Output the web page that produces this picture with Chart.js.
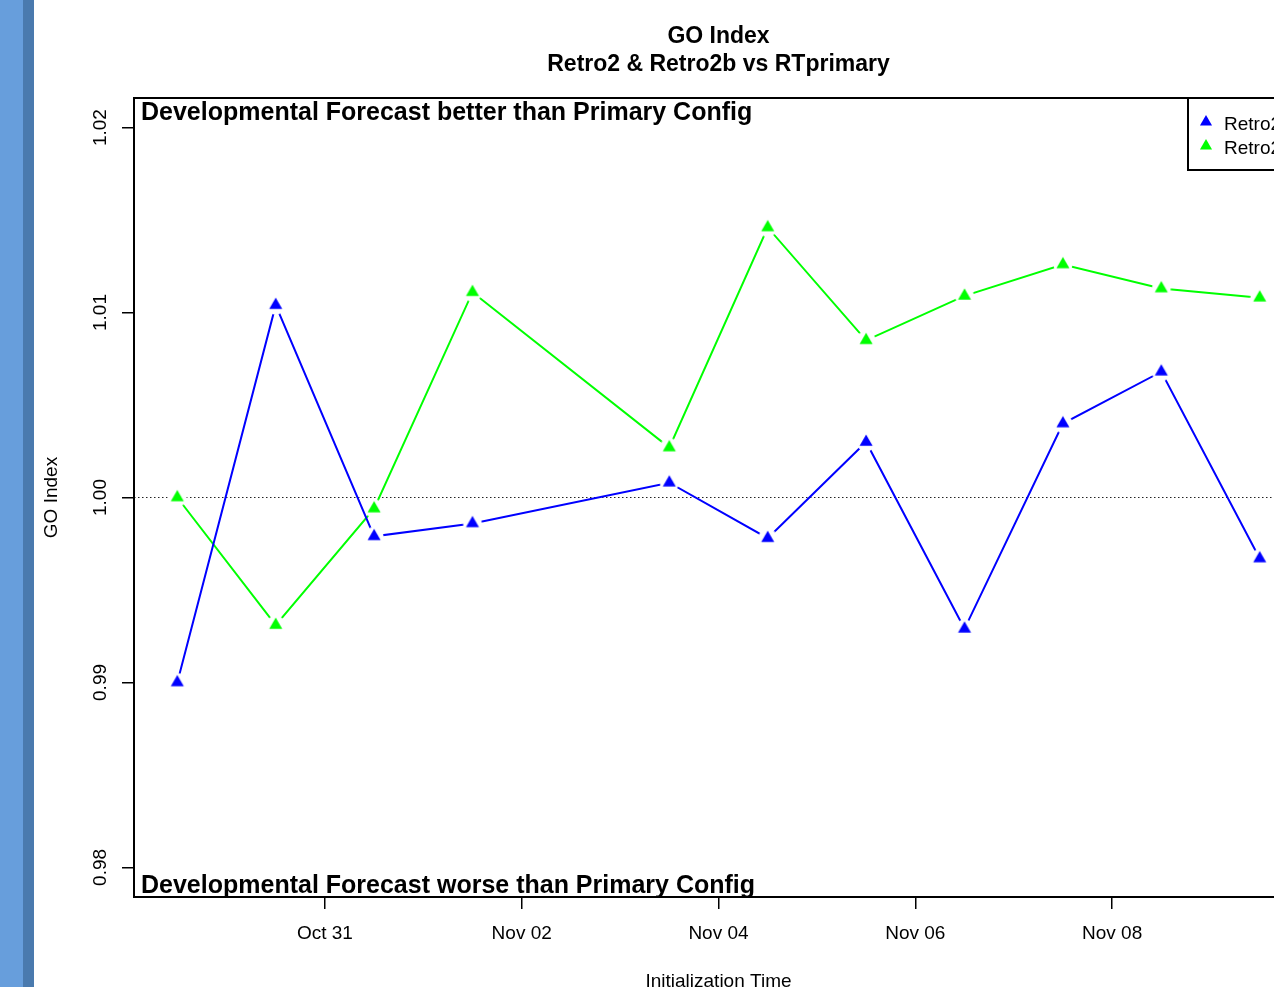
<!DOCTYPE html>
<html>
<head>
<meta charset="utf-8">
<title>GO Index</title>
<script src="https://cdn.jsdelivr.net/npm/chart.js@4/dist/chart.umd.min.js"></script>
<style>
  html, body { margin: 0; padding: 0; background: #fff; overflow: hidden; }
  #wrap { position: relative; width: 1274px; height: 987px; overflow: hidden; }
  #sideBar {
    position: absolute; left: 0; top: 0; width: 34px; height: 100%; z-index: 2;
    background: linear-gradient(to right, #679edc 0, #679edc 23px, #4a7aae 23px, #4a7aae 34px);
  }
  #goChart { position: absolute; left: 0; top: 0; }
</style>
</head>
<body>
<div id="wrap">
  <div id="sideBar"></div>
  <canvas id="goChart" width="1400" height="1000" style="width:1400px;height:1000px"></canvas>
</div>
<script>
// init times (12Z runs), Nov 02 missing
const initTimes = ['Oct 29 12Z', 'Oct 30 12Z', 'Oct 31 12Z', 'Nov 01 12Z', 'Nov 03 12Z', 'Nov 04 12Z',
  'Nov 05 12Z', 'Nov 06 12Z', 'Nov 07 12Z', 'Nov 08 12Z', 'Nov 09 12Z'];
const retro2 = [0.9900, 1.0104, 0.9979, 0.9986, 1.0008, 0.9978, 1.0030, 0.9929, 1.0040, 1.0068, 0.9967];
const retro2b = [1.0000, 0.9931, 0.9994, 1.0111, 1.0027, 1.0146, 1.0085, 1.0109, 1.0126, 1.0113, 1.0108];

const xTickLabels = ['Oct 31', 'Nov 02', 'Nov 04', 'Nov 06', 'Nov 08'];
const yTicks = [0.98, 0.99, 1.00, 1.01, 1.02];

const titleLines = ['GO Index', 'Retro2 & Retro2b vs RTprimary'];
const betterText = 'Developmental Forecast better than Primary Config';
const worseText = 'Developmental Forecast worse than Primary Config';

const FONT = '"Liberation Sans", Arial, Helvetica, sans-serif';

// day number counted from Oct 00 (Nov 01 -> 32)
function dayOf(s) {
  const parts = s.split(' ');
  const base = parts[0] === 'Nov' ? 31 : 0;
  const hour = parts[2] ? parseInt(parts[2], 10) : 0;
  return base + Number(parts[1]) + hour / 24;
}

const xs = initTimes.map(dayOf);
const xPad = (xs[xs.length - 1] - xs[0]) * 0.04;
const yPad = (yTicks[yTicks.length - 1] - yTicks[0]) * 0.04;

function triangle(ctx, x, y, r, color) {
  ctx.beginPath();
  ctx.moveTo(x, y - r);
  ctx.lineTo(x + r * Math.sqrt(3) / 2, y + r / 2);
  ctx.lineTo(x - r * Math.sqrt(3) / 2, y + r / 2);
  ctx.closePath();
  ctx.fillStyle = color;
  ctx.fill();
}

// marker with a white ring, so the joining lines stop short of it
function markerImage(color) {
  const c = document.createElement('canvas');
  c.width = 24; c.height = 24;
  const g = c.getContext('2d');
  g.beginPath();
  g.arc(12, 12, 9.5, 0, Math.PI * 2);
  g.fillStyle = '#fff';
  g.fill();
  triangle(g, 12, 12, 7.5, color);
  return c;
}

const boxPlugin = {
  id: 'boxPlugin',
  beforeDatasetsDraw(chart) {
    const { ctx, chartArea: a, scales: { y } } = chart;
    const y1 = y.getPixelForValue(1.0);
    ctx.save();
    ctx.strokeStyle = '#222';
    ctx.lineWidth = 1;
    ctx.setLineDash([1.5, 2.5]);
    ctx.beginPath();
    ctx.moveTo(a.left, y1);
    ctx.lineTo(a.right, y1);
    ctx.stroke();
    ctx.restore();
  },
  afterDraw(chart) {
    const { ctx, chartArea: a } = chart;
    const cx = (a.left + a.right) / 2;
    ctx.save();

    ctx.strokeStyle = '#000';
    ctx.lineWidth = 2;
    ctx.strokeRect(a.left, a.top, a.right - a.left, a.bottom - a.top);

    ctx.fillStyle = '#000';
    ctx.textAlign = 'center';
    ctx.textBaseline = 'alphabetic';
    ctx.font = 'bold 23px ' + FONT;
    ctx.fillText(titleLines[0], cx, 43);
    ctx.fillText(titleLines[1], cx, 71);

    ctx.font = '19px ' + FONT;
    ctx.fillText('Initialization Time', cx, 987);
    ctx.save();
    ctx.translate(57, (a.top + a.bottom) / 2);
    ctx.rotate(-Math.PI / 2);
    ctx.fillText('GO Index', 0, 0);
    ctx.restore();

    ctx.textAlign = 'left';
    ctx.font = 'bold 25px ' + FONT;
    ctx.fillText(betterText, a.left + 7, a.top + 22);
    ctx.fillText(worseText, a.left + 7, a.bottom - 4);

    // legend, top right of the plot box
    const lx = a.right - 115, ly = a.top, lw = 115, lh = 72;
    ctx.fillStyle = '#fff';
    ctx.fillRect(lx, ly, lw, lh);
    ctx.lineWidth = 2;
    ctx.strokeRect(lx, ly, lw, lh);
    ctx.font = '19px ' + FONT;
    chart.data.datasets.forEach((ds, i) => {
      const rowY = ly + 25 + i * 24;
      triangle(ctx, lx + 18, rowY - 1, 7, ds.borderColor);
      ctx.fillStyle = '#000';
      ctx.fillText(ds.label, lx + 36, rowY + 7);
    });
    ctx.restore();
  }
};

document.addEventListener('DOMContentLoaded', () => {
  const canvas = document.getElementById('goChart');

  new Chart(canvas, {
    type: 'line',
    data: {
      datasets: [
        {
          label: 'Retro2',
          data: xs.map((x, i) => ({ x, y: retro2[i] })),
          borderColor: '#0000ff',
          borderWidth: 2,
          pointStyle: markerImage('#0000ff'),
          pointRadius: 7,
          tension: 0
        },
        {
          label: 'Retro2b',
          data: xs.map((x, i) => ({ x, y: retro2b[i] })),
          borderColor: '#00ff00',
          borderWidth: 2,
          pointStyle: markerImage('#00ff00'),
          pointRadius: 7,
          tension: 0
        }
      ]
    },
    options: {
      responsive: false,
      animation: false,
      devicePixelRatio: 1,
      events: [],
      layout: { padding: { left: 0, top: 98, right: 97, bottom: 0 } },
      plugins: {
        legend: { display: false },
        title: { display: false },
        tooltip: { enabled: false }
      },
      scales: {
        x: {
          type: 'linear',
          position: 'bottom',
          min: xs[0] - xPad,
          max: xs[xs.length - 1] + xPad,
          afterBuildTicks: (s) => {
            s.ticks = xTickLabels.map(t => ({ value: dayOf(t) }));
          },
          afterFit: (s) => { s.height = 103; },
          border: { display: false },
          grid: { drawOnChartArea: false, drawTicks: true, tickLength: 12, color: '#000', lineWidth: 1.5 },
          ticks: {
            color: '#000',
            padding: 13,
            maxRotation: 0,
            autoSkip: false,
            font: { family: FONT, size: 19 },
            callback: (v, i) => xTickLabels[i]
          }
        },
        y: {
          position: 'left',
          min: yTicks[0] - yPad,
          max: yTicks[yTicks.length - 1] + yPad,
          afterBuildTicks: (s) => {
            s.ticks = yTicks.map(v => ({ value: v }));
          },
          afterFit: (s) => { s.width = 134; },
          border: { display: false },
          grid: { drawOnChartArea: false, drawTicks: true, tickLength: 12, color: '#000', lineWidth: 1.5 },
          ticks: {
            color: '#000',
            padding: 3,
            minRotation: 90,
            maxRotation: 90,
            crossAlign: 'center',
            autoSkip: false,
            font: { family: FONT, size: 19 },
            callback: (v) => v.toFixed(2)
          }
        }
      }
    },
    plugins: [boxPlugin]
  });
});
</script>
</body>
</html>
